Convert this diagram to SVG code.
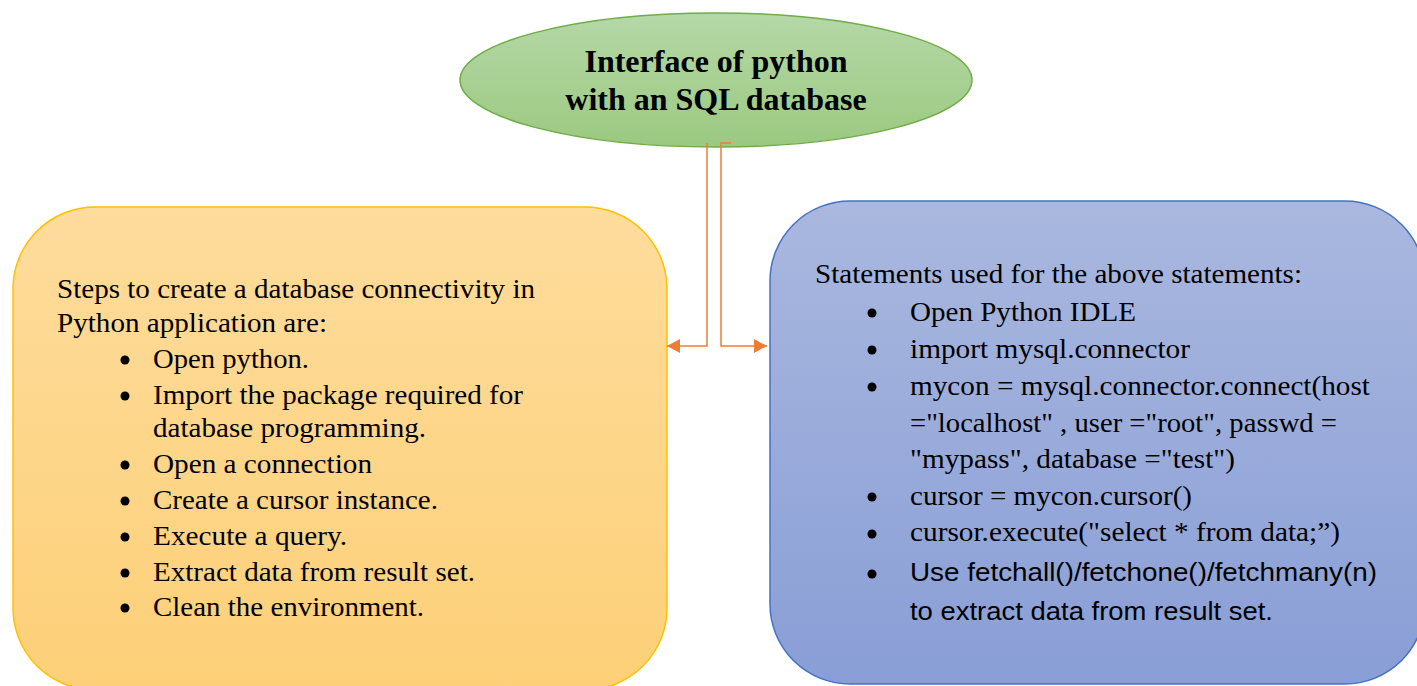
<svg xmlns="http://www.w3.org/2000/svg" width="1417" height="686" viewBox="0 0 1417 686">
<defs>
<linearGradient id="gGreen" x1="0" y1="0" x2="0" y2="1"><stop offset="0" stop-color="#B5D8A7"/><stop offset="1" stop-color="#9BC980"/></linearGradient>
<linearGradient id="gOrange" x1="0" y1="0" x2="0" y2="1"><stop offset="0" stop-color="#FEDC9C"/><stop offset="1" stop-color="#FDD078"/></linearGradient>
<linearGradient id="gBlue" x1="0" y1="0" x2="0" y2="1"><stop offset="0" stop-color="#AAB8DF"/><stop offset="1" stop-color="#899ED6"/></linearGradient>
<marker id="arr" markerWidth="14" markerHeight="14" refX="13" refY="7" orient="auto" markerUnits="userSpaceOnUse"><path d="M0,0 L13,7 L0,14 Z" fill="#ED7D31"/></marker>
</defs>
<style>
.serif{font-family:"Liberation Serif","Times New Roman",serif;font-size:27.5px;fill:#000}
.sans{font-family:"Liberation Sans",Arial,sans-serif;font-size:26px;fill:#000}
.title{font-family:"Liberation Serif","Times New Roman",serif;font-size:32px;font-weight:bold;fill:#000}
.bul{fill:#000}
.conn{fill:none;stroke:#ED7D31;stroke-width:1.5}
</style>
<g id="title-node">
<ellipse cx="716" cy="80" rx="256" ry="67" fill="url(#gGreen)" stroke="#70AD47" stroke-width="1.5"/>
<text class="title" x="716" y="72" text-anchor="middle">Interface of python</text>
<text class="title" x="716" y="110" text-anchor="middle">with an SQL database</text>
</g>
<g id="steps-node">
<rect x="13" y="207" width="654" height="483" rx="82" ry="82" fill="url(#gOrange)" stroke="#FFC000" stroke-width="1.5"/>
<text class="serif" x="57" y="298" textLength="478" lengthAdjust="spacingAndGlyphs">Steps to create a database connectivity in</text>
<text class="serif" x="57" y="332" textLength="270" lengthAdjust="spacingAndGlyphs">Python application are:</text>
<circle class="bul" cx="125" cy="360" r="4.5"/><text class="serif" x="153" y="368" textLength="156" lengthAdjust="spacingAndGlyphs">Open python.</text>
<circle class="bul" cx="125" cy="396" r="4.5"/><text class="serif" x="153" y="404" textLength="370" lengthAdjust="spacingAndGlyphs">Import the package required for</text>
<text class="serif" x="153" y="437" textLength="273" lengthAdjust="spacingAndGlyphs">database programming.</text>
<circle class="bul" cx="125" cy="465" r="4.5"/><text class="serif" x="153" y="473" textLength="219" lengthAdjust="spacingAndGlyphs">Open a connection</text>
<circle class="bul" cx="125" cy="501" r="4.5"/><text class="serif" x="153" y="509" textLength="285" lengthAdjust="spacingAndGlyphs">Create a cursor instance.</text>
<circle class="bul" cx="125" cy="537" r="4.5"/><text class="serif" x="153" y="545" textLength="194" lengthAdjust="spacingAndGlyphs">Execute a query.</text>
<circle class="bul" cx="125" cy="573" r="4.5"/><text class="serif" x="153" y="581" textLength="322" lengthAdjust="spacingAndGlyphs">Extract data from result set.</text>
<circle class="bul" cx="125" cy="608" r="4.5"/><text class="serif" x="153" y="616" textLength="271" lengthAdjust="spacingAndGlyphs">Clean the environment.</text>
</g>
<g id="statements-node">
<rect x="770" y="201" width="655" height="483" rx="80" ry="80" fill="url(#gBlue)" stroke="#4472C4" stroke-width="1.5"/>
<text class="serif" x="815" y="283" textLength="487" lengthAdjust="spacingAndGlyphs">Statements used for the above statements:</text>
<circle class="bul" cx="872" cy="313" r="4.5"/><text class="serif" x="910" y="321" textLength="226" lengthAdjust="spacingAndGlyphs">Open Python IDLE</text>
<circle class="bul" cx="872" cy="350" r="4.5"/><text class="serif" x="910" y="358" textLength="280" lengthAdjust="spacingAndGlyphs">import mysql.connector</text>
<circle class="bul" cx="872" cy="387" r="4.5"/><text class="serif" x="910" y="395" textLength="460" lengthAdjust="spacingAndGlyphs">mycon = mysql.connector.connect(host</text>
<text class="serif" x="910" y="432" textLength="427" lengthAdjust="spacingAndGlyphs">="localhost" , user ="root", passwd =</text>
<text class="serif" x="910" y="468" textLength="325" lengthAdjust="spacingAndGlyphs">"mypass", database ="test")</text>
<circle class="bul" cx="872" cy="497" r="4.5"/><text class="serif" x="910" y="505" textLength="282" lengthAdjust="spacingAndGlyphs">cursor = mycon.cursor()</text>
<circle class="bul" cx="872" cy="534" r="4.5"/><text class="serif" x="910" y="541" textLength="430" lengthAdjust="spacingAndGlyphs">cursor.execute("select * from data;”)</text>
<circle class="bul" cx="872" cy="574" r="4.5"/><text class="sans" x="910" y="581" textLength="467" lengthAdjust="spacingAndGlyphs">Use fetchall()/fetchone()/fetchmany(n)</text>
<text class="sans" x="910" y="620" textLength="363" lengthAdjust="spacingAndGlyphs">to extract data from result set.</text>
</g>
<g id="connectors">
<path class="conn" d="M707,143 L707,346 L667,346" marker-end="url(#arr)"/>
<path class="conn" d="M731,143 L721,143 L721,346 L767,346" marker-end="url(#arr)"/>
</g>
</svg>
